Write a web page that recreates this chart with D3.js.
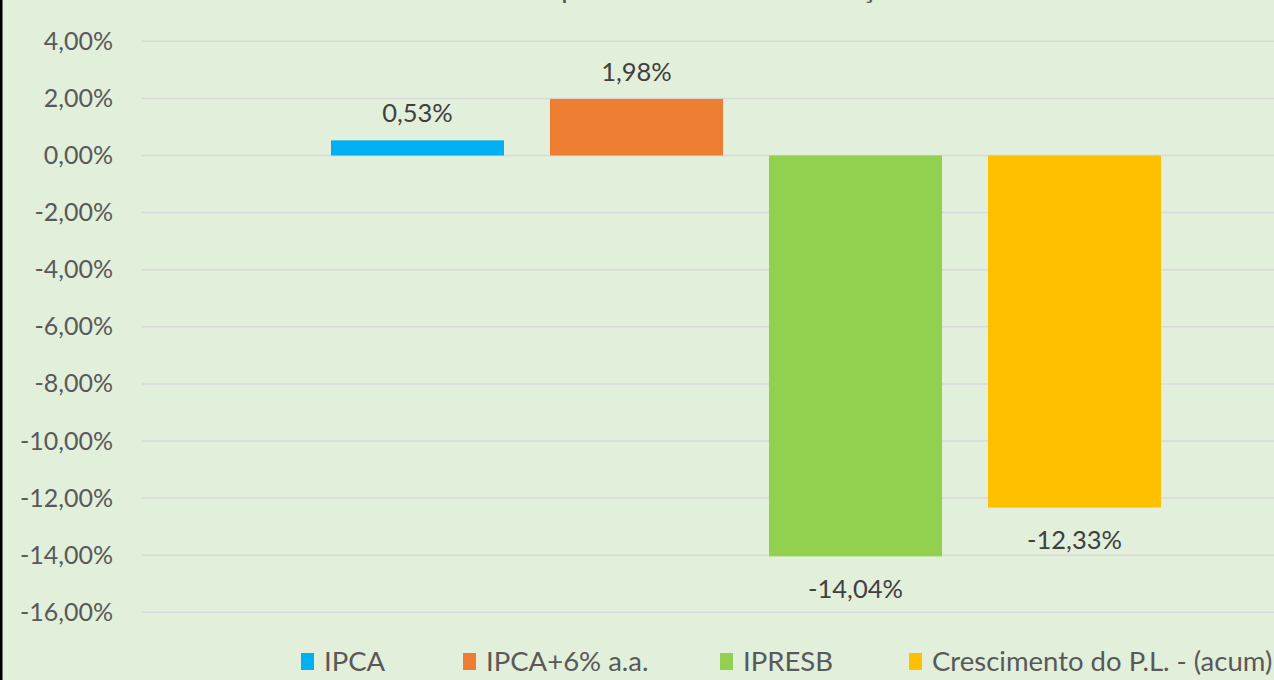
<!DOCTYPE html>
<html><head><meta charset="utf-8">
<script src="https://cdn.jsdelivr.net/npm/d3@7"></script>
<style>
html,body{margin:0;padding:0;background:#E2EFDA;overflow:hidden;}
svg{display:block;}
text{font-family:Lato, "Open Sans", sans-serif;}
</style></head>
<body>
<svg id="chart" width="1274" height="680"></svg>
<script>
const categories = ["IPCA", "IPCA+6% a.a.", "IPRESB", "Crescimento do P.L. - (acum)"];
const values = [0.53, 1.98, -14.04, -12.33];
const colors = ["#00B0F0", "#ED7D31", "#92D050", "#FFC000"];
const yTicks = [4, 2, 0, -2, -4, -6, -8, -10, -12, -14, -16];
const title = "Comparativo de evolução";

const W = 1274, H = 680;
const svg = d3.select("#chart");
svg.append("rect").attr("width", W).attr("height", H).attr("fill", "#E2EFDA");
svg.append("rect").attr("x", 0).attr("y", 0).attr("width", 2.5).attr("height", H).attr("fill", "#000");

const y = d3.scaleLinear().domain([-16, 4]).range([612.3, 41.3]);
const x = d3.scaleBand().domain(categories).range([308, 1184]).paddingInner(0.21).paddingOuter(0.105);

const fmt = v => v.toFixed(2).replace(".", ",") + "%";

// gridlines
svg.append("g").selectAll("line").data(yTicks).join("line")
  .attr("x1", 142).attr("x2", W)
  .attr("y1", d => y(d)).attr("y2", d => y(d))
  .attr("stroke", "#D9D9D9").attr("stroke-width", 1.5);

// y axis labels
const yAxis = d3.axisLeft(y).tickValues(yTicks).tickFormat(fmt).tickSize(0).tickPadding(0);
const ga = svg.append("g").attr("transform", "translate(113,0)").call(yAxis);
ga.select(".domain").remove();
ga.selectAll("text").attr("font-size", 25).attr("fill", "#595959").attr("font-family", "Lato, sans-serif");

// title (cut off at top, as in the reference)
svg.append("text").attr("x", 701).attr("y", -2).attr("text-anchor", "middle")
  .attr("font-size", 30).attr("fill", "#595959").attr("textLength", 430).attr("lengthAdjust", "spacing")
  .text(title);

// bars
svg.append("g").selectAll("rect").data(categories).join("rect")
  .attr("x", d => x(d)).attr("width", x.bandwidth())
  .attr("y", (d, i) => y(Math.max(0, values[i])))
  .attr("height", (d, i) => Math.abs(y(values[i]) - y(0)))
  .attr("fill", (d, i) => colors[i]);

// data labels
svg.append("g").selectAll("text").data(categories).join("text")
  .attr("x", d => x(d) + x.bandwidth() / 2)
  .attr("y", (d, i) => values[i] >= 0 ? y(values[i]) - 27 : y(values[i]) + 33)
  .attr("dy", "0.35em")
  .attr("text-anchor", "middle").attr("font-size", 25.5).attr("fill", "#404040")
  .text((d, i) => fmt(values[i]));

// legend
const legendX = [301, 463, 720, 909];
const lg = svg.append("g").selectAll("g").data(categories).join("g")
  .attr("transform", (d, i) => `translate(${legendX[i]},661)`);
lg.append("rect").attr("x", 0).attr("y", -8).attr("width", 13).attr("height", 17)
  .attr("fill", (d, i) => colors[i]);
lg.append("text").attr("x", 23).attr("y", 0).attr("dy", "0.35em")
  .attr("font-size", 27.5).attr("fill", "#595959").text(d => d);
</script>
</body></html>
